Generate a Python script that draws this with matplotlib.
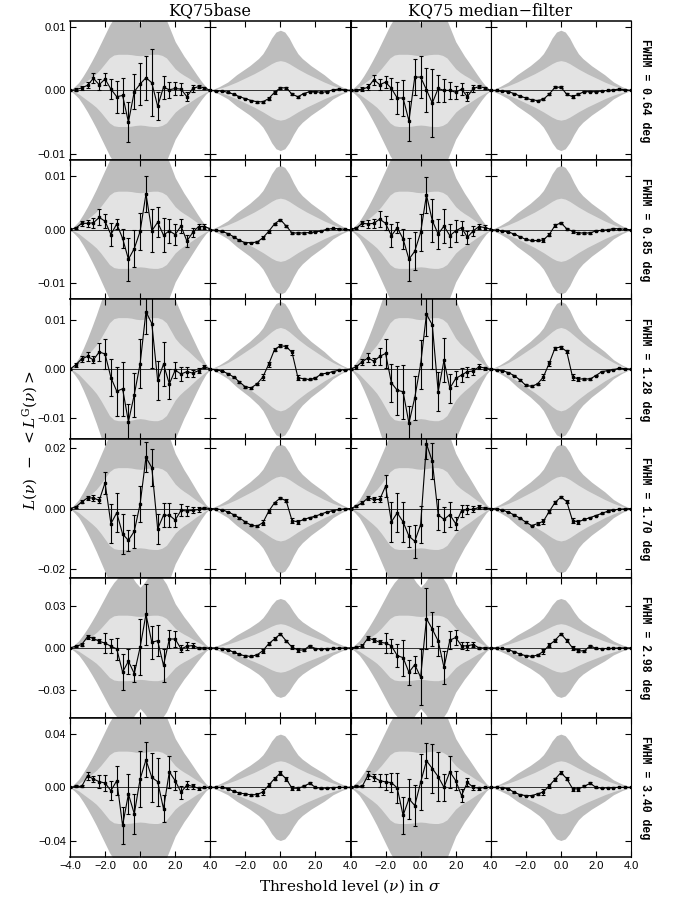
import numpy as np
import matplotlib
matplotlib.use("Agg")
import matplotlib.pyplot as plt

plt.rcParams['mathtext.fontset'] = 'dejavuserif'

# ---------------- data ----------------
nu = np.linspace(-4, 4, 25)        # threshold levels of the measured points
nu_band = np.linspace(-4, 4, 33)   # threshold levels of the confidence bands

fwhm_labels = ["0.64", "0.85", "1.28", "1.70", "2.98", "3.40"]
column_titles = ["KQ75base", "KQ75 median\u2212filter"]

# y-axis half ranges and ticks per row
ylims = [0.011, 0.013, 0.0142, 0.023, 0.050, 0.052]
yticks = [[-0.01, 0.0, 0.01], [-0.01, 0.0, 0.01], [-0.01, 0.0, 0.01],
          [-0.02, 0.0, 0.02], [-0.03, 0.0, 0.03], [-0.04, 0.0, 0.04]]

# series values in units of 1e-3
# KQ75base, full-resolution residual (column 1)
base_r1 = [0, 0.1, 0.4, 0.8, 1.9, 0.9, 1.8, 0.2, -1.0, -0.8, -5.0, -0.2, 1.0, 2.0, 1.2, -2.5, 0.5, 0.1, 0.3, 0.2, -1.0, 0.3, 0.6, 0.4, 0]
base_r2 = [0.1, 0.3, 1.2, 1.2, 1.3, 2.3, 1.6, -0.9, 1.1, -1.6, -5.5, -3.5, -0.3, 6.7, -0.2, 1.4, -1.0, -0.2, -0.9, 0.7, -2.1, -0.5, 0.6, 0.6, 0.2]
base_r3 = [0, 0.9, 2.1, 2.6, 1.9, 3.5, 3.1, -1.7, -4.5, -4.0, -10.7, -5.2, 1.1, 11.7, 9.3, -2.3, 1.0, -3.0, -0.2, -1.0, -0.5, -0.8, -0.3, 0.5, 0]
base_r4 = [0, 0.5, 2.2, 3.5, 3.5, 2.7, 8.5, -5.0, -1.4, -8.4, -10.5, -7.5, 1.5, 16.9, 13.5, -6.7, -2.2, -2.2, -3.8, -0.6, -0.8, -0.6, -0.3, 0.2, 0]
base_r5 = [0, 1.2, 2.4, 8.0, 6.9, 4.7, 3.5, 1.2, -0.7, -17.3, -9.5, -18.4, 0.5, 24.1, 4.0, 5.2, -12.5, 6.4, 6.4, -0.7, 1.2, 1.7, 0, 0, 0]
base_r6 = [0, 0.7, 0.7, 8.6, 6.2, 4.2, 3.2, -2.5, 4.9, -28.4, -5.0, -19.8, 6.2, 20.5, 7.4, 4.2, -16.0, 11.6, 4.9, -3.7, 1.7, 0.7, -0.7, 0, 0]

# KQ75base, smoothed residual (column 2)
bsm_r1 = [0, -0.05, -0.1, -0.3, -0.6, -1.0, -1.3, -1.6, -1.8, -1.8, -1.3, -0.3, 0.4, 0.4, -0.6, -1.0, -0.5, -0.2, -0.2, -0.3, -0.2, 0.1, 0.2, 0.1, 0]
bsm_r2 = [0, -0.1, -0.3, -0.7, -1.3, -2.0, -2.4, -2.4, -2.3, -1.5, -0.3, 1.1, 1.9, 0.7, -0.6, -0.6, -0.6, -0.5, -0.4, -0.2, 0.1, 0.25, 0.2, 0.1, 0]
bsm_r3 = [0, -0.1, -0.4, -0.9, -1.6, -2.6, -3.6, -3.8, -3.0, -1.6, 1.0, 4.0, 4.8, 4.6, 3.4, -1.7, -2.0, -2.1, -1.8, -1.0, -0.8, -0.5, -0.2, -0.1, 0]
bsm_r4 = [0, -0.1, -0.4, -1.1, -2.0, -3.1, -4.4, -5.5, -5.8, -4.7, -0.9, 1.9, 3.5, 2.5, -4.0, -4.4, -3.6, -3.0, -2.5, -1.8, -1.1, -0.7, -0.3, -0.1, 0]
bsm_r5 = [0, 0, -0.5, -1.4, -3.0, -4.6, -5.8, -6.0, -5.0, -2.0, 3.0, 6.5, 10.0, 5.0, 0.5, -1.5, -1.5, 1.5, -0.5, -0.8, -0.5, -0.3, -0.1, 0, 0]
bsm_r6 = [0, 0, 0, -1.0, -3.0, -4.3, -4.9, -5.7, -5.4, -3.5, 1.5, 6.5, 10.6, 6.2, -0.7, -0.7, 0.7, 3.0, 0, -0.7, -0.5, -0.2, 0, 0, 0]

# KQ75 median-filter, full-resolution residual (column 3)
med_r1 = [0, 0.05, 0.2, 0.5, 1.7, 0.9, 1.3, 0.3, -1.2, -1.2, -4.8, 2.1, 2.1, 0.1, -2.0, 0.3, 0, 0, -0.3, 0.2, -1.0, 0.3, 0.6, 0.4, 0]
med_r2 = [0.1, 0.3, 1.2, 1.1, 1.2, 2.0, 1.2, -1.1, 0.4, -1.7, -5.5, -4.0, -0.5, 6.5, 1.7, -0.8, 0.7, -1.1, -0.2, 0.4, -1.4, -0.2, 0.6, 0.4, 0.1]
med_r3 = [0, 0.5, 1.5, 2.3, 1.6, 2.6, 3.2, -2.8, -4.3, -4.6, -11.0, -5.8, 1.0, 11.2, 9.0, -4.6, 1.8, -3.9, -1.9, -1.2, -0.5, -0.4, 0.5, 0.2, 0]
med_r4 = [0, 0.8, 1.9, 3.5, 3.0, 3.0, 7.4, -4.4, -1.4, -4.4, -9.1, -10.8, -5.3, 21.3, 15.6, -2.0, -3.6, -2.0, -5.0, -0.7, -0.3, -0.3, 0.4, 0.1, 0]
med_r5 = [0, 0.5, 1.5, 7.0, 5.8, 4.0, 3.5, 1.5, -5.5, -7.0, -17.5, -12.0, -21.0, 21.0, 13.5, 5.0, -14.0, 5.5, 7.5, 1.5, 1.5, 2.4, 0, 0, 0]
med_r6 = [0, 0.7, 0.7, 9.0, 7.4, 5.0, 4.0, 3.5, -0.5, -21.0, -8.6, -13.6, 3.7, 19.8, 14.0, 8.0, 0.0, 11.6, 5.0, -6.2, 3.7, 0, -0.7, 0, 0]

# KQ75 median-filter, smoothed residual (column 4)
msm_r1 = [0, 0, -0.1, -0.2, -0.5, -0.9, -1.2, -1.5, -1.6, -1.4, -0.6, 0.5, 0.5, -0.6, -1.0, -0.6, -0.2, -0.2, -0.2, -0.1, 0, 0.1, 0.2, 0.1, 0]
msm_r2 = [0, -0.05, -0.2, -0.4, -0.8, -1.3, -1.8, -2.0, -2.0, -1.9, -0.9, 0.8, 1.3, 0.2, -0.3, -0.6, -0.6, -0.6, -0.2, -0.1, 0, 0.2, 0.2, 0.1, 0]
msm_r3 = [0, -0.1, -0.3, -0.7, -1.3, -2.2, -3.3, -3.5, -3.0, -1.6, 1.2, 4.3, 4.5, 3.6, -1.6, -2.0, -2.0, -2.0, -1.3, -0.5, -0.3, -0.1, 0.2, 0.1, 0]
msm_r4 = [0, -0.1, -0.5, -1.2, -2.1, -3.2, -4.5, -5.6, -5.0, -4.2, -1.0, 2.0, 3.8, 2.3, -4.0, -4.4, -3.6, -3.0, -2.3, -1.6, -0.9, -0.5, -0.2, -0.1, 0]
msm_r5 = [0, 0, -0.4, -1.2, -2.8, -4.4, -5.6, -6.0, -5.2, -2.5, 2.0, 5.5, 10.0, 5.5, 0, -2.0, -2.2, 1.5, -0.3, -0.5, -0.4, -0.2, 0, 0, 0]
msm_r6 = [0, 0, -0.2, -1.2, -3.7, -5.5, -6.2, -6.2, -4.9, -3.5, 1.2, 6.0, 11.0, 6.5, -1.0, -1.2, 0.7, 3.0, 0, -0.5, -0.3, -0.2, 0, 0, 0]

# error bars (1e-3 units), full-resolution columns
err_full_r1 = [0.1, 0.2, 0.3, 0.5, 0.8, 0.9, 1.0, 1.6, 2.5, 2.8, 3.2, 2.8, 3.3, 3.5, 5.3, 2.2, 1.8, 1.3, 1.0, 0.9, 0.7, 0.5, 0.3, 0.2, 0.1]
err_full_r2 = [0.1, 0.2, 0.5, 0.7, 0.9, 1.5, 1.3, 2.2, 1.0, 1.8, 4.0, 3.5, 3.5, 3.4, 4.0, 2.8, 3.2, 2.2, 2.0, 1.3, 1.2, 0.9, 0.5, 0.4, 0.1]
err_full_r3 = [0.1, 0.4, 0.6, 0.9, 0.7, 1.8, 3.0, 3.8, 5.0, 5.5, 3.5, 4.5, 5.0, 4.5, 9.0, 4.0, 4.5, 3.0, 1.6, 1.5, 1.0, 0.7, 0.5, 0.3, 0.1]
err_full_r4 = [0.1, 0.3, 0.5, 0.8, 0.9, 1.0, 3.7, 6.5, 6.5, 6.5, 3.5, 5.5, 6.0, 5.0, 6.0, 5.0, 4.0, 4.0, 2.2, 2.0, 1.5, 1.0, 0.7, 0.4, 0.1]
err_full_r5 = [0.2, 0.5, 1.0, 1.5, 1.2, 1.5, 7.0, 5.0, 8.0, 13.0, 9.0, 6.0, 20.0, 22.0, 12.0, 11.0, 12.0, 6.5, 5.5, 2.5, 3.0, 1.5, 0.8, 0.5, 0.2]
err_full_r6 = [0.3, 0.7, 0.8, 3.0, 2.5, 5.0, 6.0, 7.0, 11.0, 14.0, 15.0, 15.0, 21.0, 13.0, 18.0, 18.0, 10.0, 12.0, 7.0, 5.0, 3.0, 2.0, 1.0, 0.5, 0.3]

# error bars (1e-3 units), smoothed columns
err_sm_r1 = [0, 0.02, 0.03, 0.05, 0.06, 0.08, 0.1, 0.1, 0.12, 0.15, 0.2, 0.2, 0.15, 0.15, 0.2, 0.15, 0.1, 0.08, 0.06, 0.05, 0.04, 0.03, 0.02, 0.02, 0]
err_sm_r2 = [0, 0.03, 0.04, 0.06, 0.08, 0.1, 0.12, 0.12, 0.15, 0.3, 0.3, 0.25, 0.2, 0.2, 0.25, 0.2, 0.12, 0.1, 0.08, 0.06, 0.05, 0.04, 0.03, 0.02, 0]
err_sm_r3 = [0, 0.03, 0.05, 0.08, 0.1, 0.15, 0.2, 0.2, 0.25, 0.6, 0.5, 0.3, 0.3, 0.3, 0.6, 0.5, 0.2, 0.15, 0.12, 0.1, 0.08, 0.05, 0.04, 0.03, 0]
err_sm_r4 = [0, 0.05, 0.08, 0.1, 0.15, 0.2, 0.3, 0.3, 0.4, 0.8, 0.6, 0.4, 0.4, 0.5, 0.8, 0.6, 0.3, 0.25, 0.2, 0.15, 0.12, 0.1, 0.06, 0.05, 0]
err_sm_r5 = [0, 0.1, 0.15, 0.2, 0.3, 0.4, 0.5, 0.5, 0.8, 1.5, 1.2, 1.0, 1.0, 1.0, 1.5, 1.2, 0.6, 0.5, 0.4, 0.3, 0.2, 0.15, 0.1, 0.1, 0]
err_sm_r6 = [0, 0.1, 0.2, 0.25, 0.35, 0.5, 0.6, 0.6, 1.0, 2.0, 1.5, 1.2, 1.2, 1.2, 1.5, 1.2, 0.7, 0.6, 0.5, 0.35, 0.25, 0.2, 0.12, 0.1, 0]

# confidence band shapes on nu_band
light_full = [0, 0.04, 0.1, 0.19, 0.28, 0.37, 0.47, 0.6, 0.75, 0.9, 0.98, 1.0, 1.0, 1.0, 0.99, 0.97, 0.96,
              0.97, 0.99, 1.0, 1.0, 0.97, 0.9, 0.75, 0.6, 0.5, 0.42, 0.35, 0.27, 0.19, 0.12, 0.05, 0]
dark_full = [0, 0.1, 0.22, 0.4, 0.6, 0.82, 1.05, 1.3, 1.55, 1.8, 2.0, 2.15, 2.3, 2.3, 2.2, 2.0, 1.85,
             2.0, 2.2, 2.3, 2.3, 2.15, 1.95, 1.65, 1.35, 1.15, 0.95, 0.78, 0.6, 0.42, 0.25, 0.1, 0]
dark_sm = [0, 0.03, 0.06, 0.1, 0.14, 0.2, 0.26, 0.31, 0.36, 0.41, 0.47, 0.53, 0.61, 0.73, 0.87, 0.97, 1.0,
           0.97, 0.87, 0.73, 0.61, 0.53, 0.47, 0.41, 0.36, 0.31, 0.26, 0.2, 0.14, 0.1, 0.06, 0.03, 0]
light_sm = [0, 0.03, 0.07, 0.11, 0.16, 0.22, 0.28, 0.35, 0.42, 0.49, 0.56, 0.64, 0.72, 0.81, 0.9, 0.97, 1.0,
            0.97, 0.9, 0.81, 0.72, 0.64, 0.56, 0.49, 0.42, 0.35, 0.28, 0.22, 0.16, 0.11, 0.07, 0.03, 0]
# band amplitudes per row
band_full_amp = [0.0057, 0.0072, 0.0105, 0.0135, 0.0235, 0.027]
band_sm_dark_amp = [0.0095, 0.012, 0.0138, 0.0213, 0.0355, 0.0397]
band_sm_light_amp = [0.0047, 0.0059, 0.0085, 0.0107, 0.0174, 0.0198]

series = [
    [base_r1, bsm_r1, med_r1, msm_r1],
    [base_r2, bsm_r2, med_r2, msm_r2],
    [base_r3, bsm_r3, med_r3, msm_r3],
    [base_r4, bsm_r4, med_r4, msm_r4],
    [base_r5, bsm_r5, med_r5, msm_r5],
    [base_r6, bsm_r6, med_r6, msm_r6],
]
err_full = [err_full_r1, err_full_r2, err_full_r3, err_full_r4, err_full_r5, err_full_r6]
err_sm = [err_sm_r1, err_sm_r2, err_sm_r3, err_sm_r4, err_sm_r5, err_sm_r6]

# ---------------- figure ----------------
W, H = 673, 902
fig = plt.figure(figsize=(W / 100, H / 100), dpi=100)
x0 = 70 / W
cw = 140.25 / W
top = 1 - 20.7 / H
rh = (857 - 20.7) / 6 / H

DARK = '#bdbdbd'
LIGHT = '#e3e3e3'
tickfont = dict(family='Liberation Sans', size=8)

for r in range(6):
    for c in range(4):
        ax = fig.add_axes([x0 + c * cw, top - (r + 1) * rh, cw, rh])
        full = (c % 2 == 0)
        if full:
            dk = np.array(dark_full) * band_full_amp[r]
            lt = np.array(light_full) * band_full_amp[r]
            err = np.array(err_full[r]) * 1e-3
        else:
            dk = np.array(dark_sm) * band_sm_dark_amp[r]
            lt = np.array(light_sm) * band_sm_light_amp[r]
            err = np.array(err_sm[r]) * 1e-3
        ax.fill_between(nu_band, -dk, dk, color=DARK, lw=0, zorder=1)
        ax.fill_between(nu_band, -lt, lt, color=LIGHT, lw=0, zorder=2)
        ax.axhline(0, color='#303030', lw=0.7, zorder=3)
        y = np.array(series[r][c]) * 1e-3
        ax.errorbar(nu, y, yerr=err, fmt='-s', color='k', ms=2.0, lw=0.8,
                    elinewidth=0.8, capsize=1.6, capthick=0.8, zorder=4)
        ax.set_xlim(-4, 4)
        ax.set_ylim(-ylims[r], ylims[r])
        ax.set_xticks([-4, -2, 0, 2, 4])
        ax.set_yticks(yticks[r])
        ax.tick_params(direction='in', top=True, right=True, length=4, width=0.8, pad=3)
        for side in ['left', 'right']:
            ax.spines[side].set_linewidth(0.8)
        for side in ['top', 'bottom']:
            ax.spines[side].set_linewidth(1.1)
        if c == 1:
            ax.spines['right'].set_linewidth(1.3)
        if c == 2:
            ax.spines['left'].set_linewidth(1.3)
        if c == 0:
            ax.set_yticklabels([("%.2f" % v).replace('-', '\u2212') for v in yticks[r]], **tickfont)
        else:
            ax.set_yticklabels([])
        if r == 5:
            labs = [("%.1f" % v).replace('-', '\u2212') for v in [-4, -2, 0, 2, 4]]
            if c > 0:
                labs[0] = ''
            ax.set_xticklabels(labs, **tickfont)
        else:
            ax.set_xticklabels([])

    yc = top - (r + 0.5) * rh
    fig.text(645 / W, yc, "FWHM = %s deg" % fwhm_labels[r], rotation=-90,
             ha='center', va='center', family='Liberation Mono', weight='bold', size=8.3)

fig.text(210 / W, 1 - 11 / H, column_titles[0], ha='center', va='center',
         family='DejaVu Serif', size=11.5)
fig.text(490 / W, 1 - 11 / H, column_titles[1], ha='center', va='center',
         family='DejaVu Serif', size=11.5)
fig.text(350 / W, 1 - 886 / H, r'Threshold level ($\nu$) in $\sigma$', ha='center', va='center',
         family='DejaVu Serif', size=11)
fig.text(30 / W, 1 - 440 / H, r'$L(\nu)$  $-$  $<L^{\rm G}(\nu)>$', rotation=90,
         ha='center', va='center', size=11)

fig.savefig('out.png', dpi=100)
